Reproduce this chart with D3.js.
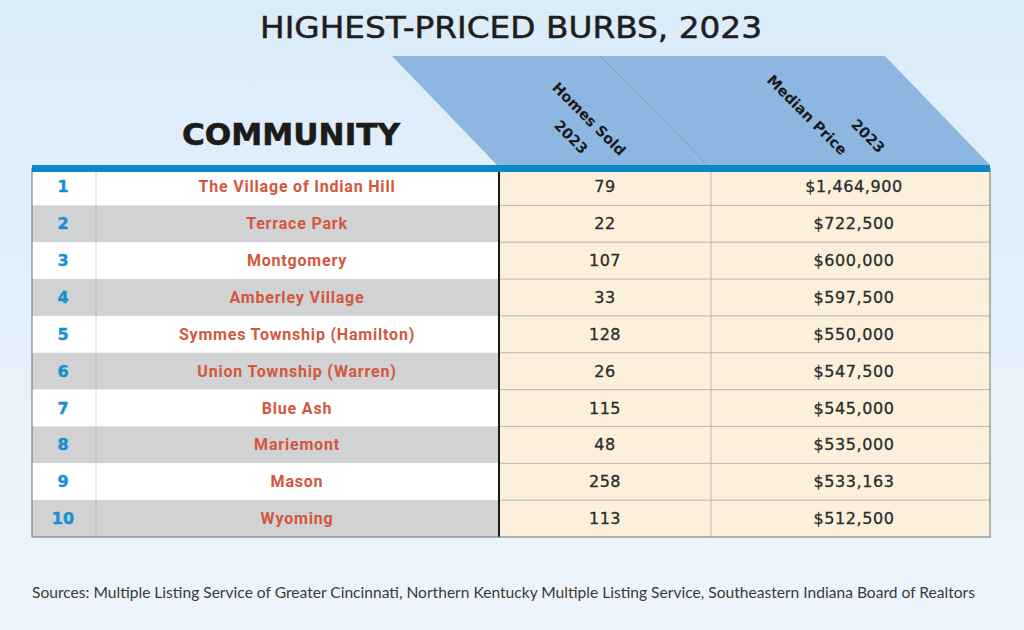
<!DOCTYPE html>
<html>
<head>
<meta charset="utf-8">
<script src="https://cdn.jsdelivr.net/npm/d3@7"></script>
<style>
  body { margin: 0; padding: 0; background: #e3f0fa; }
  svg { display: block; }
</style>
</head>
<body>
<svg id="chart" width="1024" height="630"></svg>
<script>
// table data
var ranks = [1, 2, 3, 4, 5, 6, 7, 8, 9, 10];
var communities = [
    "The Village of Indian Hill",
    "Terrace Park",
    "Montgomery",
    "Amberley Village",
    "Symmes Township (Hamilton)",
    "Union Township (Warren)",
    "Blue Ash",
    "Mariemont",
    "Mason",
    "Wyoming"
];
var homesSold = [79, 22, 107, 33, 128, 26, 115, 48, 258, 113];
var medianPrice = [1464900, 722500, 600000, 597500, 550000, 547500, 545000, 535000, 533163, 512500];
var columnHeads = ["COMMUNITY", "Homes Sold", "Median Price"];
var yearLabel = "2023";

var title = "HIGHEST-PRICED BURBS, 2023";
var source = "Sources: Multiple Listing Service of Greater Cincinnati, Northern Kentucky Multiple Listing Service, Southeastern Indiana Board of Realtors";

var svg = d3.select("#chart");
var width = 1024, height = 630;

var defs = svg.append("defs");
var grad = defs.append("linearGradient")
    .attr("id", "bg").attr("x1", 0).attr("y1", 0).attr("x2", 0).attr("y2", 1);
grad.append("stop").attr("offset", "0%").attr("stop-color", "#dbecf9");
grad.append("stop").attr("offset", "100%").attr("stop-color", "#eef5fc");

svg.append("rect")
    .attr("width", width).attr("height", height)
    .attr("fill", "url(#bg)");

// layout
var tableLeft = 32, tableRight = 990;
var rankSep = 96, nameRight = 498, homesRight = 711;
var tableTop = 168.5, tableBottom = 537;

var y = d3.scaleBand().domain(ranks).range([tableTop, tableBottom]);

var fmtPrice = d3.format("$,");

// title
svg.append("text")
    .attr("x", 260).attr("y", 38)
    .attr("textLength", 502).attr("lengthAdjust", "spacingAndGlyphs")
    .style("font-family", "DejaVu Sans")
    .style("font-size", "30px")
    .style("fill", "#1e1e1e")
    .style("stroke", "#1e1e1e").style("stroke-width", 0.5)
    .text(title);

// slanted header
var headPts = [[392, 56], [885, 56], [990, 165], [497, 165]];
svg.append("path")
    .attr("d", d3.line()(headPts) + "Z")
    .attr("fill", "#8db7e1");

svg.append("line")
    .attr("x1", 600).attr("y1", 56).attr("x2", 708).attr("y2", 165)
    .attr("stroke", "#555").attr("stroke-width", 0.8)
    .attr("stroke-dasharray", "1,2");

svg.append("text")
    .attr("x", 182).attr("y", 145)
    .attr("textLength", 218).attr("lengthAdjust", "spacingAndGlyphs")
    .style("font-family", "DejaVu Sans")
    .style("font-weight", "bold")
    .style("font-size", "31px")
    .style("fill", "#1b1b1b")
    .style("stroke", "#1b1b1b").style("stroke-width", 0.6)
    .text(columnHeads[0]);

// rotated column heads
var headLabels = [
    { t: columnHeads[1], cx: 589, cy: 119 },
    { t: yearLabel, cx: 571, cy: 137 },
    { t: columnHeads[2], cx: 807, cy: 115 },
    { t: yearLabel, cx: 868, cy: 136 }
];
svg.selectAll("text.head")
    .data(headLabels)
    .enter().append("text")
    .attr("class", "head")
    .attr("transform", function (d) { return "translate(" + d.cx + "," + d.cy + ") rotate(45)"; })
    .attr("text-anchor", "middle")
    .attr("dominant-baseline", "central")
    .style("font-family", "DejaVu Sans")
    .style("font-weight", "bold")
    .style("font-size", "14.5px")
    .style("fill", "#1a1a1a")
    .text(function (d) { return d.t; });

// rows
var rows = svg.selectAll("g.row")
    .data(ranks)
    .enter().append("g")
    .attr("class", "row")
    .attr("transform", function (d) { return "translate(0," + y(d) + ")"; });

rows.append("rect")
    .attr("x", tableLeft).attr("width", nameRight - tableLeft)
    .attr("height", y.bandwidth())
    .attr("fill", function (d, i) { return i % 2 ? "#d1d2d4" : "#ffffff"; });

rows.append("rect")
    .attr("x", nameRight).attr("width", tableRight - nameRight)
    .attr("height", y.bandwidth())
    .attr("fill", "#fcf0dd");

// row lines
svg.selectAll("line.rowline")
    .data(ranks.slice(1))
    .enter().append("line")
    .attr("class", "rowline")
    .attr("x1", nameRight).attr("x2", tableRight)
    .attr("y1", function (d) { return y(d); })
    .attr("y2", function (d) { return y(d); })
    .attr("stroke", "#bdb6ac").attr("stroke-width", 1);

// column lines
svg.append("line")
    .attr("x1", rankSep).attr("x2", rankSep)
    .attr("y1", tableTop).attr("y2", tableBottom)
    .attr("stroke", "#999").attr("stroke-width", 0.8)
    .attr("stroke-dasharray", "1,1");

svg.append("line")
    .attr("x1", homesRight).attr("x2", homesRight)
    .attr("y1", tableTop).attr("y2", tableBottom)
    .attr("stroke", "#bdb6ac").attr("stroke-width", 1);

svg.append("line")
    .attr("x1", nameRight + 1).attr("x2", nameRight + 1)
    .attr("y1", tableTop).attr("y2", tableBottom)
    .attr("stroke", "#1a1a1a").attr("stroke-width", 2);

// outer border
svg.append("rect")
    .attr("x", tableLeft).attr("y", tableTop)
    .attr("width", tableRight - tableLeft).attr("height", tableBottom - tableTop)
    .attr("fill", "none").attr("stroke", "#6f6f6f").attr("stroke-width", 1);

// blue bar
svg.append("rect")
    .attr("x", tableLeft).attr("y", 165)
    .attr("width", tableRight - tableLeft).attr("height", 7)
    .attr("fill", "#0a88c9");

// cell texts
rows.append("text")
    .attr("x", 63).attr("y", y.bandwidth() / 2)
    .attr("text-anchor", "middle").attr("dominant-baseline", "central")
    .style("font-family", "DejaVu Sans").style("font-weight", "bold")
    .style("font-size", "16px").style("fill", "#1a8fd0")
    .style("stroke", "#1a8fd0").style("stroke-width", 0.4)
    .text(function (d) { return d; });

rows.append("text")
    .attr("x", 297).attr("y", y.bandwidth() / 2)
    .attr("text-anchor", "middle").attr("dominant-baseline", "central")
    .style("font-family", "Roboto").style("font-weight", "bold")
    .style("font-size", "16px").style("fill", "#d3573c")
    .style("letter-spacing", "0.8px")
    .text(function (d, i) { return communities[i]; });

rows.append("text")
    .attr("x", 605).attr("y", y.bandwidth() / 2)
    .attr("text-anchor", "middle").attr("dominant-baseline", "central")
    .style("font-family", "DejaVu Sans")
    .style("font-size", "16px").style("fill", "#2b2b2b")
    .style("stroke", "#2b2b2b").style("stroke-width", 0.3)
    .style("letter-spacing", "0.5px")
    .text(function (d, i) { return homesSold[i]; });

rows.append("text")
    .attr("x", 854).attr("y", y.bandwidth() / 2)
    .attr("text-anchor", "middle").attr("dominant-baseline", "central")
    .style("font-family", "DejaVu Sans")
    .style("font-size", "16px").style("fill", "#2b2b2b")
    .style("stroke", "#2b2b2b").style("stroke-width", 0.3)
    .style("letter-spacing", "0.6px")
    .text(function (d, i) { return fmtPrice(medianPrice[i]); });

// source line
svg.append("text")
    .attr("x", 32).attr("y", 598)
    .attr("textLength", 943).attr("lengthAdjust", "spacingAndGlyphs")
    .style("font-family", "Lato")
    .style("font-size", "16px")
    .style("fill", "#3a3a3a")
    .text(source);
</script>
</body>
</html>
